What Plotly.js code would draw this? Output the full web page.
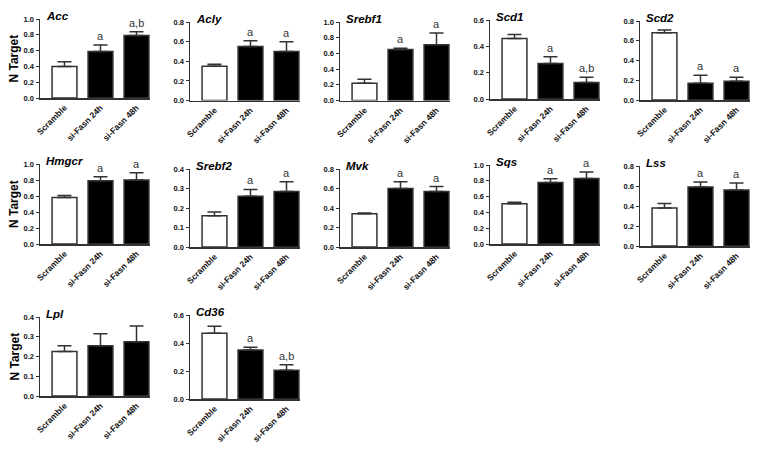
<!DOCTYPE html>
<html>
<head>
<meta charset="utf-8">
<script src="https://cdn.plot.ly/plotly-3.0.1.min.js"></script>
<style>html,body{margin:0;padding:0;background:#fff}#chart{width:772px;height:451px}</style>
</head>
<body>
<div id="chart"></div>
<script>
var groups = ["Scramble", "si-Fasn 24h", "si-Fasn 48h"];
var genes = ["Acc", "Acly", "Srebf1", "Scd1", "Scd2", "Hmgcr", "Srebf2", "Mvk", "Sqs", "Lss", "Lpl", "Cd36"];

var acc = [0.40, 0.59, 0.79],     accErr = [0.06, 0.08, 0.05];
var acly = [0.35, 0.55, 0.50],    aclyErr = [0.02, 0.06, 0.10];
var srebf1 = [0.22, 0.65, 0.71],  srebf1Err = [0.05, 0.015, 0.15];
var scd1 = [0.46, 0.27, 0.125],   scd1Err = [0.03, 0.05, 0.04];
var scd2 = [0.68, 0.17, 0.19],    scd2Err = [0.03, 0.08, 0.04];
var hmgcr = [0.58, 0.79, 0.80],   hmgcrErr = [0.025, 0.05, 0.09];
var srebf2 = [0.16, 0.26, 0.285], srebf2Err = [0.02, 0.035, 0.05];
var mvk = [0.34, 0.60, 0.57],     mvkErr = [0.01, 0.07, 0.05];
var sqs = [0.51, 0.78, 0.83],     sqsErr = [0.02, 0.045, 0.08];
var lss = [0.38, 0.59, 0.56],     lssErr = [0.045, 0.05, 0.07];
var lpl = [0.225, 0.255, 0.275],  lplErr = [0.03, 0.06, 0.08];
var cd36 = [0.47, 0.35, 0.205],   cd36Err = [0.05, 0.02, 0.04];

var yMax = [1.0, 0.8, 1.0, 0.6, 0.8, 1.0, 0.4, 0.8, 1.0, 0.8, 0.4, 0.6];
var yStep = [0.2, 0.2, 0.2, 0.2, 0.2, 0.2, 0.1, 0.2, 0.2, 0.2, 0.1, 0.2];

var letters = [
  ["", "a", "a,b"], ["", "a", "a"], ["", "a", "a"], ["", "a", "a,b"], ["", "a", "a"],
  ["", "a", "a"], ["", "a", "a"], ["", "a", "a"], ["", "a", "a"], ["", "a", "a"],
  ["", "", ""], ["", "a", "a,b"]
];

var means = [acc, acly, srebf1, scd1, scd2, hmgcr, srebf2, mvk, sqs, lss, lpl, cd36];
var errs = [accErr, aclyErr, srebf1Err, scd1Err, scd2Err, hmgcrErr, srebf2Err, mvkErr, sqsErr, lssErr, lplErr, cd36Err];

// pixel placement of each panel's plot area (top, bottom)
var W = 772, H = 451;
var tops = [19, 22, 22, 20, 21, 164, 169, 169, 165, 166, 317, 315];
var bottoms = [98, 100.5, 100.5, 99, 100, 244, 247, 247, 244, 246, 396, 399];

var FONT = "Liberation Sans, Arial, sans-serif";
var INK = "#333";
var data = [];
var annotations = [];
var layout = {
  width: W, height: H,
  margin: {l: 0, r: 0, t: 0, b: 0},
  paper_bgcolor: "#fff", plot_bgcolor: "#fff",
  showlegend: false,
  font: {family: FONT, color: "#111"}
};

genes.forEach(function (g, i) {
  var col = i % 5, row = Math.floor(i / 5);
  var n = i + 1;
  var xa = "x" + n, ya = "y" + n;
  var left = 40 + 150 * col, right = 150 + 150 * col;

  data.push({
    type: "bar",
    x: groups, y: means[i],
    xaxis: xa, yaxis: ya,
    width: 0.69,
    marker: {color: ["#fff", "#000", "#000"], line: {color: INK, width: 1.5}},
    error_y: {type: "data", symmetric: false, array: errs[i], arrayminus: [0, 0, 0],
      color: INK, thickness: 1.5, width: 7},
    hoverinfo: "skip"
  });

  layout["xaxis" + n] = {
    domain: [left / W, right / W],
    anchor: ya,
    type: "category",
    range: [-0.68, 2.375],
    showline: true, linecolor: INK, linewidth: 1.5,
    ticks: "", tickangle: -45,
    tickfont: {family: FONT, size: 8.5, color: "#111", weight: "bold"},
    showgrid: false, zeroline: false, fixedrange: true
  };
  layout["yaxis" + n] = {
    domain: [1 - bottoms[i] / H, 1 - tops[i] / H],
    anchor: xa,
    range: [0, yMax[i]],
    dtick: yStep[i], tick0: 0, tickformat: ".1f",
    showline: true, linecolor: INK, linewidth: 1.5,
    ticks: "outside", ticklen: 3, tickwidth: 1, tickcolor: INK,
    tickfont: {family: FONT, size: 7.5, color: "#111", weight: "bold"},
    showgrid: false, zeroline: false, fixedrange: true
  };

  annotations.push({
    xref: "paper", yref: "paper",
    x: (left + 4) / W, y: 1 - (tops[i] - 3) / H,
    xanchor: "left", yanchor: "middle",
    text: "<b><i>" + g + "</i></b>", showarrow: false,
    font: {family: FONT, size: 11.5, color: "#000"}
  });

  letters[i].forEach(function (t, k) {
    if (!t) return;
    annotations.push({
      xref: xa, yref: ya,
      x: groups[k], y: means[i][k] + errs[i][k],
      yanchor: "bottom", yshift: 1,
      text: t, showarrow: false,
      font: {family: FONT, size: 11, color: "#333"}
    });
  });

  if (col === 0) {
    annotations.push({
      xref: "paper", yref: "paper",
      x: 14 / W, y: 1 - ((tops[i] + bottoms[i]) / 2) / H,
      xanchor: "center", yanchor: "middle", textangle: -90,
      text: "<b>N Target</b>", showarrow: false,
      font: {family: FONT, size: 12, color: "#000"}
    });
  }
});

layout.annotations = annotations;
Plotly.newPlot("chart", data, layout, {displayModeBar: false, staticPlot: true});
</script>
</body>
</html>
